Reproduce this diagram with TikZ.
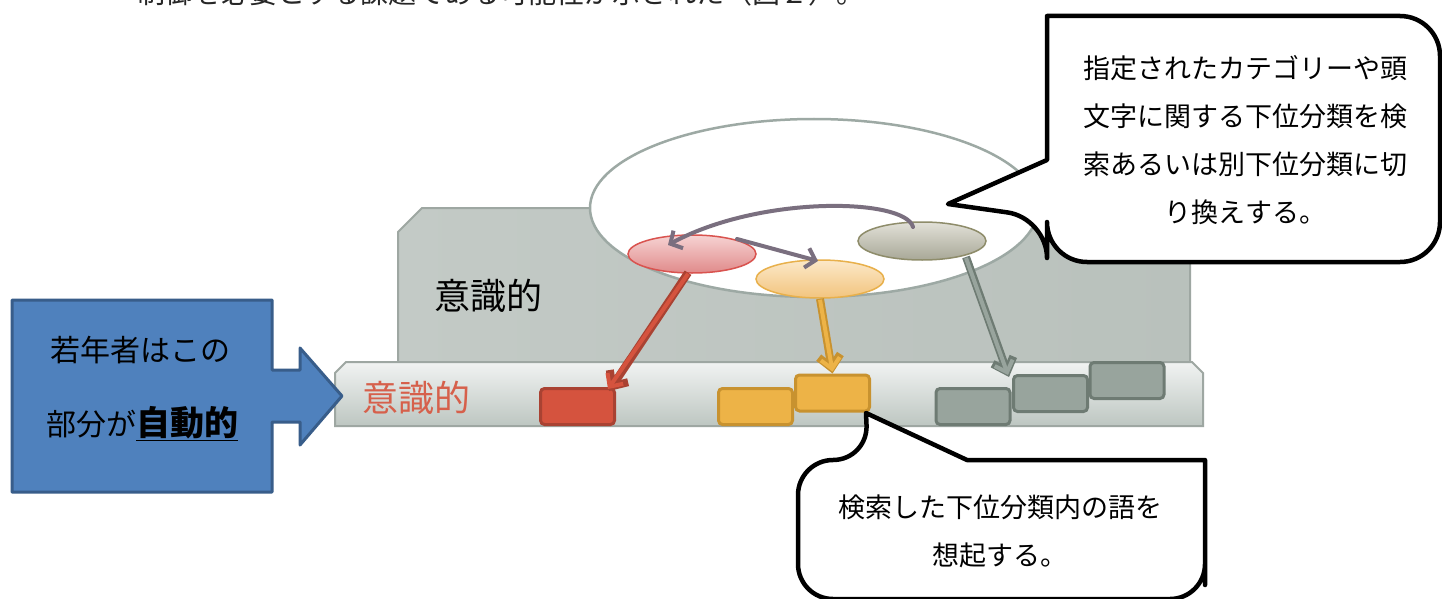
\documentclass[tikz,border=0pt]{standalone}
\usepackage{fontspec}
\newfontfamily\jp{Noto Sans CJK JP}
\usetikzlibrary{shapes.geometric,arrows.meta,calc}
\definecolor{boxline}{HTML}{9EA7A2}
\definecolor{boxL}{HTML}{C3CAC6}
\definecolor{boxM}{HTML}{DDE2DF}
\definecolor{boxR}{HTML}{B9C1BC}
\definecolor{barT}{HTML}{F1F3F2}
\definecolor{barB}{HTML}{BDC6C1}
\definecolor{ringline}{HTML}{9DA9A4}
\definecolor{redF}{HTML}{D5533E}
\definecolor{redD}{HTML}{A94232}
\definecolor{yelF}{HTML}{EDB347}
\definecolor{yelD}{HTML}{C8922F}
\definecolor{gryF}{HTML}{98A49D}
\definecolor{gryD}{HTML}{6E7B73}
\definecolor{arrowP}{HTML}{7A6F7F}
\definecolor{blueF}{HTML}{4F81BD}
\definecolor{blueD}{HTML}{385D8A}
\definecolor{redtxt}{HTML}{D6604B}
\definecolor{rEt}{HTML}{F6D3D3}
\definecolor{rEb}{HTML}{E08A8A}
\definecolor{rEd}{HTML}{D9534F}
\definecolor{yEt}{HTML}{FCE8C8}
\definecolor{yEb}{HTML}{F2C47E}
\definecolor{yEd}{HTML}{E8B04B}
\definecolor{gEt}{HTML}{E2E1D8}
\definecolor{gEb}{HTML}{A8A897}
\definecolor{gEd}{HTML}{8E8C6A}
\tikzset{
  block/.style={rectangle, rounded corners=4pt, line width=3pt, minimum width=74pt, minimum height=36pt, inner sep=0pt},
  redblock/.style={block, fill=redF, draw=redD},
  yelblock/.style={block, fill=yelF, draw=yelD},
  gryblock/.style={block, fill=gryF, draw=gryD},
  subell/.style={ellipse, minimum width=128pt, minimum height=38pt, inner sep=0pt, line width=1.5pt},
  callout/.style={draw=black, fill=white, line width=4.5pt, line join=round},
  purplearrow/.style={draw=arrowP, line width=4pt, line cap=round, -{Straight Barb[length=9pt,width=20pt]}},
  jptext/.style={font=\jp\fontsize{27}{48}\selectfont, align=center, inner sep=0pt},
}
\begin{document}
\begin{tikzpicture}[x=1pt,y=-1pt]
\useasboundingbox (0,0) rectangle (1442,599);
\clip (0,0) rectangle (1442,599);
\fill[white] (0,0) rectangle (1442,599);

% cut-off line of text at the top
\node[anchor=base west, inner sep=0pt, font=\jp\fontsize{28}{30}\selectfont, text=black!85] (toptext) at (137,4) {制御を必要とする課題である可能性が示された（図２）。};

% upper (conscious) box
\path[draw=boxline, line width=2pt, left color=boxL, middle color=boxM, right color=boxR]
  (398,232) -- (422,208) -- (1172,208) -- (1190,226) -- (1190,362) -- (398,362) -- cycle;
\node[font=\jp\fontsize{36}{40}\selectfont, inner sep=0pt] (upperlabel) at (488,296) {意識的};

% big ring
\node[ellipse, draw=ringline, fill=white, line width=2.5pt, minimum width=448pt, minimum height=178pt, inner sep=0pt] (ring) at (814,208) {};

% lower bar
\path[draw=boxline, line width=2pt, top color=barT, bottom color=barB]
  (335,373) -- (346,362) -- (1192,362) -- (1203,373) -- (1203,426) -- (335,426) -- cycle;
\node[font=\jp\fontsize{36}{40}\selectfont, text=redtxt, inner sep=0pt] (lowerlabel) at (416,398) {意識的};

% blocks
\node[redblock] (rb) at (577.5,406.5) {};
\node[yelblock] (yb1) at (755.5,406.5) {};
\node[yelblock] (yb2) at (832.5,393) {};
\node[gryblock] (gb1) at (973,406.5) {};
\node[gryblock] (gb2) at (1050.5,393.5) {};
\node[gryblock] (gb3) at (1127,380.5) {};

% small ellipses
\node[subell, top color=rEt, bottom color=rEb, draw=rEd] (rE) at (692,254) {};
\node[subell, top color=yEt, bottom color=yEb, draw=yEd] (yE) at (820,279) {};
\node[subell, top color=gEt, bottom color=gEb, draw=gEd] (gE) at (922,241) {};

% arrows between sub-ellipses
\draw[purplearrow] ($(gE.center)+(-9,-14)$) .. controls (905,198) and (760,195) .. ($(rE.center)+(-24,-9)$);
\draw[purplearrow] ($(rE.center)+(45,-15)$) -- ($(yE.center)+(-2,-18)$);

% block arrows to the blocks
\draw[line width=8pt, draw=redD, -{Straight Barb[length=12pt,width=22pt]}] ($(rE.south)+(-4,-1)$) -- ($(rb.north east)+(-7,4)$);
\draw[line width=4pt, draw=redF, -{Straight Barb[length=10pt,width=19pt]}] ($(rE.south)+(-4,0)$) -- ($(rb.north east)+(-8,2)$);
\draw[line width=8pt, draw=yelD, -{Straight Barb[length=12pt,width=22pt]}] (yE.south) -- (yb2.north);
\draw[line width=4pt, draw=yelF, -{Straight Barb[length=10pt,width=19pt]}] ($(yE.south)+(0,1)$) -- ($(yb2.north)+(0,-2)$);
\draw[line width=8pt, draw=gryD, -{Straight Barb[length=12pt,width=22pt]}] ($(gE.center)+(44,16)$) -- ($(gb2.north west)+(-3,3)$);
\draw[line width=4pt, draw=gryF, -{Straight Barb[length=10pt,width=19pt]}] ($(gE.center)+(44,17)$) -- ($(gb2.north west)+(-4,1)$);

% blue arrow box
\path[fill=blueF, draw=blueD, line width=3pt, line join=round]
  (12,300) -- (272,300) -- (272,370) -- (300,370) -- (300,348) -- (342,396) -- (300,445) -- (300,422) -- (272,422) -- (272,492) -- (12,492) -- cycle;
\node[font=\jp\fontsize{30}{36}\selectfont, inner sep=0pt] (blue1) at (140,350) {若年者はこの};
\node[font=\jp\fontsize{30}{36}\selectfont, inner sep=0pt, anchor=base] (blue2) at (142,435) {部分が{\fontsize{34}{36}\selectfont\bfseries\underline{自動的}}};

% upper callout
\path[callout] (1440,140) [rounded corners=40pt] -- (1440,262) -- (1047,262) -- (1047,218) [sharp corners] -- (948,204) -- (1047,160) -- (1047,16) [rounded corners=40pt] -- (1440,16) -- cycle;
\node[jptext] (note1) at (1245,140) {指定されたカテゴリーや頭\\文字に関する下位分類を検\\索あるいは別下位分類に切\\り換えする。};

% lower callout
\path[callout] (1205,550) [rounded corners=35pt] -- (1205,599) -- (798,599) -- (798,460) -- (868,460) [sharp corners] -- (866,413) -- (967,460) -- (1205,460) [rounded corners=35pt] -- cycle;
\node[jptext] (note2) at (1000,531) {検索した下位分類内の語を\\想起する。};
\end{tikzpicture}
\end{document}
